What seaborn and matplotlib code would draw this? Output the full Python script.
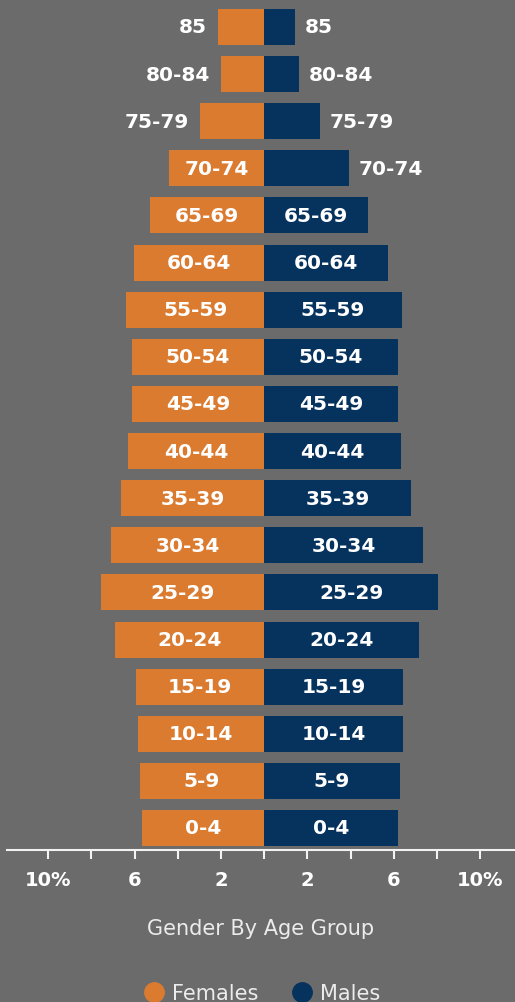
import matplotlib
matplotlib.use("Agg")
import matplotlib.pyplot as plt
from matplotlib.lines import Line2D
import seaborn as sns
import pandas as pd

# Age groups from top to bottom of the pyramid
ages = ["85", "80-84", "75-79", "70-74", "65-69", "60-64", "55-59", "50-54", "45-49",
        "40-44", "35-39", "30-34", "25-29", "20-24", "15-19", "10-14", "5-9", "0-4"]

# Share of population (%)
females = [2.16, 1.99, 2.99, 4.40, 5.30, 6.02, 6.39, 6.13, 6.13,
           6.30, 6.65, 7.10, 7.54, 6.91, 5.94, 5.83, 5.76, 5.65]
males = [1.42, 1.60, 2.59, 3.94, 4.82, 5.73, 6.36, 6.18, 6.18,
         6.34, 6.80, 7.34, 8.05, 7.16, 6.43, 6.43, 6.27, 6.18]

tick_values = [-10, -8, -6, -4, -2, 0, 2, 4, 6, 8, 10]
tick_labels = ["10%", "", "6", "", "2", "", "2", "", "6", "", "10%"]

BG = "#6b6b6b"
ORANGE = "#db7b30"
NAVY = "#06325e"

df = pd.DataFrame({"Age": ages, "Females": females, "Males": males})
df["FemalesNeg"] = -df["Females"]

sns.set_theme(style="white")
plt.rcParams["font.family"] = ["DejaVu Sans"]

fig = plt.figure(figsize=(5.15, 10.03), dpi=100, facecolor=BG)
ax = fig.add_axes([7 / 515, 1 - 851 / 1003, 1 - 7 / 515, 851 / 1003])
ax.set_facecolor(BG)

sns.barplot(data=df, x="FemalesNeg", y="Age", order=ages, color=ORANGE,
            width=0.764, saturation=1, linewidth=0, ax=ax)
sns.barplot(data=df, x="Males", y="Age", order=ages, color=NAVY,
            width=0.764, saturation=1, linewidth=0, ax=ax)

ax.set_xlim(-11.91, 11.61)
ax.set_ylim(17.467, -0.594)

# labels: inside the bar when it is wide enough, else just outside
for i, (age, f, m) in enumerate(zip(ages, females, males)):
    if f >= 4.2:
        ax.text(-f / 2, i, age, ha="center", va="center", color="white",
                fontsize=14.5, fontweight="bold")
    else:
        ax.text(-f - 0.5, i, age, ha="right", va="center", color="white",
                fontsize=14.5, fontweight="bold")
    if m >= 4.2:
        ax.text(m / 2, i, age, ha="center", va="center", color="white",
                fontsize=14.5, fontweight="bold")
    else:
        ax.text(m + 0.45, i, age, ha="left", va="center", color="white",
                fontsize=14.5, fontweight="bold")

ax.set_xticks(tick_values)
ax.set_xticklabels(tick_labels, fontsize=14, fontweight="bold", color="white")
ax.tick_params(axis="x", which="major", direction="out", length=6.5, width=1.5,
               colors="#f2f2f2", pad=8, bottom=True)
ax.tick_params(axis="x", labelcolor="white")
ax.set_yticks([])
ax.set_ylabel("")
ax.set_xlabel("Gender By Age Group", fontsize=15, color="#ececec", labelpad=21)

for side in ["left", "top", "right"]:
    ax.spines[side].set_visible(False)
ax.spines["bottom"].set_color("#f2f2f2")
ax.spines["bottom"].set_linewidth(1.5)

handles = [
    Line2D([], [], marker="o", linestyle="none", markersize=14,
           markerfacecolor=ORANGE, markeredgecolor=ORANGE, label="Females"),
    Line2D([], [], marker="o", linestyle="none", markersize=14,
           markerfacecolor=NAVY, markeredgecolor=NAVY, label="Males"),
]
leg = fig.legend(handles=handles, loc="center", ncol=2, frameon=False,
                 bbox_to_anchor=(262 / 515, 1 - 994 / 1003), fontsize=15,
                 handletextpad=0.35, columnspacing=1.6, handlelength=1.0)
for t in leg.get_texts():
    t.set_color("#ececec")

fig.savefig("out.png", dpi=100, facecolor=BG)
